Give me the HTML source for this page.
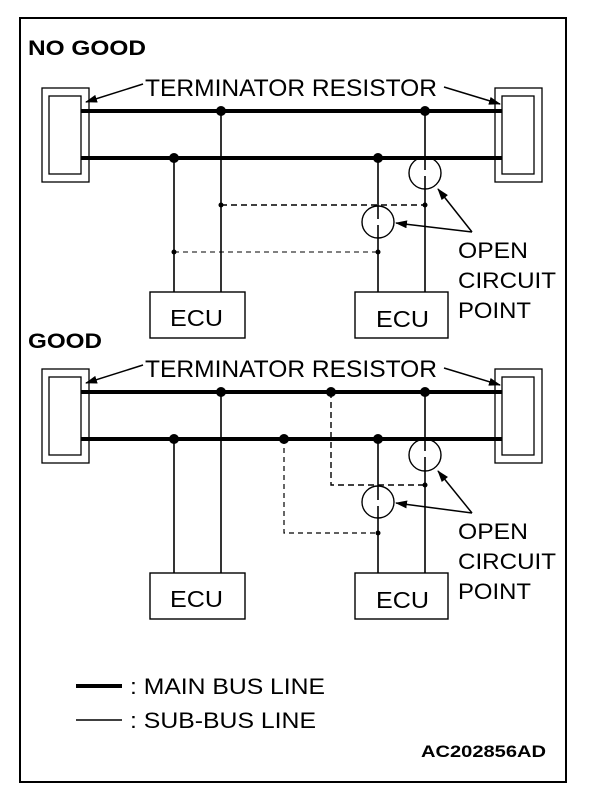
<!DOCTYPE html>
<html><head><style>body{margin:0;background:#fff}svg{display:block}text{font-family:"Liberation Sans",sans-serif;fill:#000}</style></head>
<body>
<svg width="608" height="794" viewBox="0 0 608 794" xmlns="http://www.w3.org/2000/svg">
<defs><marker id="ah" markerWidth="12" markerHeight="8" refX="11" refY="4" orient="auto" markerUnits="userSpaceOnUse"><path d="M0,0 L12,4 L0,8 z" fill="#000"/></marker></defs>
<rect x="20" y="18" width="546" height="764" fill="none" stroke="#000" stroke-width="2"/>

<text x="28" y="55" font-size="21" font-weight="bold" textLength="118" lengthAdjust="spacingAndGlyphs">NO GOOD</text>
<text x="28" y="348" font-size="21" font-weight="bold" textLength="74" lengthAdjust="spacingAndGlyphs">GOOD</text>

<g id="ng">
<text x="145" y="96" font-size="24" textLength="292" lengthAdjust="spacingAndGlyphs">TERMINATOR RESISTOR</text>
<line x1="143" y1="84" x2="86" y2="102" stroke="#000" stroke-width="1.5" marker-end="url(#ah)"/>
<line x1="444" y1="87" x2="500" y2="104" stroke="#000" stroke-width="1.5" marker-end="url(#ah)"/>
<rect x="42" y="88" width="47" height="94" fill="none" stroke="#000" stroke-width="1.3"/>
<rect x="49" y="96" width="32" height="78" fill="none" stroke="#000" stroke-width="1.3"/>
<rect x="495" y="88" width="47" height="94" fill="none" stroke="#000" stroke-width="1.3"/>
<rect x="502" y="96" width="32" height="78" fill="none" stroke="#000" stroke-width="1.3"/>
<line x1="81" y1="111" x2="502" y2="111" stroke="#000" stroke-width="4"/>
<line x1="81" y1="158" x2="502" y2="158" stroke="#000" stroke-width="4"/>
<g stroke="#000" stroke-width="1.6">
<line x1="221" y1="111" x2="221" y2="292"/>
<line x1="174" y1="158" x2="174" y2="292"/>
<line x1="425" y1="111" x2="425" y2="170"/><line x1="425" y1="176" x2="425" y2="292"/>
<line x1="378" y1="158" x2="378" y2="219"/><line x1="378" y1="225" x2="378" y2="292"/>
</g>
<circle cx="425" cy="173" r="16" fill="none" stroke="#000" stroke-width="1.4"/>
<circle cx="378" cy="222" r="16" fill="none" stroke="#000" stroke-width="1.4"/>
<line x1="221" y1="205" x2="425" y2="205" stroke="#000" stroke-width="1.4" stroke-dasharray="6,4"/>
<line x1="174" y1="252" x2="378" y2="252" stroke="#000" stroke-width="1" stroke-dasharray="5,4"/>
<g fill="#000"><circle cx="221" cy="111" r="5"/><circle cx="425" cy="111" r="5"/><circle cx="174" cy="158" r="5"/><circle cx="378" cy="158" r="5"/>
<circle cx="221" cy="205" r="2.5"/><circle cx="425" cy="205" r="2.5"/><circle cx="174" cy="252" r="2.5"/><circle cx="378" cy="252" r="2.5"/></g>
<line x1="472" y1="232" x2="438" y2="189" stroke="#000" stroke-width="1.5" marker-end="url(#ah)"/>
<line x1="472" y1="232" x2="396" y2="223" stroke="#000" stroke-width="1.5" marker-end="url(#ah)"/>
<text x="458" y="258" font-size="22" textLength="70" lengthAdjust="spacingAndGlyphs">OPEN</text>
<text x="458" y="288" font-size="22" textLength="98" lengthAdjust="spacingAndGlyphs">CIRCUIT</text>
<text x="458" y="318" font-size="22" textLength="73" lengthAdjust="spacingAndGlyphs">POINT</text>
<rect x="150" y="292" width="95" height="46" fill="#fff" stroke="#000" stroke-width="1.4"/>
<rect x="355" y="292" width="93" height="46" fill="#fff" stroke="#000" stroke-width="1.4"/>
<text x="170" y="326" font-size="23" textLength="53" lengthAdjust="spacingAndGlyphs">ECU</text>
<text x="376" y="327" font-size="23" textLength="53" lengthAdjust="spacingAndGlyphs">ECU</text>
</g>

<g transform="translate(0,281)">
<text x="145" y="96" font-size="24" textLength="292" lengthAdjust="spacingAndGlyphs">TERMINATOR RESISTOR</text>
<line x1="143" y1="84" x2="86" y2="102" stroke="#000" stroke-width="1.5" marker-end="url(#ah)"/>
<line x1="444" y1="87" x2="500" y2="104" stroke="#000" stroke-width="1.5" marker-end="url(#ah)"/>
<rect x="42" y="88" width="47" height="94" fill="none" stroke="#000" stroke-width="1.3"/>
<rect x="49" y="96" width="32" height="78" fill="none" stroke="#000" stroke-width="1.3"/>
<rect x="495" y="88" width="47" height="94" fill="none" stroke="#000" stroke-width="1.3"/>
<rect x="502" y="96" width="32" height="78" fill="none" stroke="#000" stroke-width="1.3"/>
<line x1="81" y1="111" x2="502" y2="111" stroke="#000" stroke-width="4"/>
<line x1="81" y1="158" x2="502" y2="158" stroke="#000" stroke-width="4"/>
<g stroke="#000" stroke-width="1.6">
<line x1="221" y1="111" x2="221" y2="292"/>
<line x1="174" y1="158" x2="174" y2="292"/>
<line x1="425" y1="111" x2="425" y2="170"/><line x1="425" y1="176" x2="425" y2="292"/>
<line x1="378" y1="158" x2="378" y2="219"/><line x1="378" y1="225" x2="378" y2="292"/>
</g>
<circle cx="425" cy="174" r="16" fill="none" stroke="#000" stroke-width="1.4"/>
<circle cx="378" cy="221" r="16" fill="none" stroke="#000" stroke-width="1.4"/>
<polyline points="331,111 331,204 425,204" fill="none" stroke="#000" stroke-width="1.4" stroke-dasharray="6,4"/>
<polyline points="284,158 284,252 378,252" fill="none" stroke="#000" stroke-width="1.2" stroke-dasharray="5,4"/>
<g fill="#000"><circle cx="221" cy="111" r="5"/><circle cx="331" cy="111" r="5"/><circle cx="425" cy="111" r="5"/><circle cx="174" cy="158" r="5"/><circle cx="284" cy="158" r="5"/><circle cx="378" cy="158" r="5"/>
<circle cx="425" cy="204" r="2.5"/><circle cx="378" cy="252" r="2.5"/></g>
<line x1="472" y1="232" x2="438" y2="190" stroke="#000" stroke-width="1.5" marker-end="url(#ah)"/>
<line x1="472" y1="232" x2="396" y2="222" stroke="#000" stroke-width="1.5" marker-end="url(#ah)"/>
<text x="458" y="258" font-size="22" textLength="70" lengthAdjust="spacingAndGlyphs">OPEN</text>
<text x="458" y="288" font-size="22" textLength="98" lengthAdjust="spacingAndGlyphs">CIRCUIT</text>
<text x="458" y="318" font-size="22" textLength="73" lengthAdjust="spacingAndGlyphs">POINT</text>
<rect x="150" y="292" width="95" height="46" fill="#fff" stroke="#000" stroke-width="1.4"/>
<rect x="355" y="292" width="93" height="46" fill="#fff" stroke="#000" stroke-width="1.4"/>
<text x="170" y="326" font-size="23" textLength="53" lengthAdjust="spacingAndGlyphs">ECU</text>
<text x="376" y="327" font-size="23" textLength="53" lengthAdjust="spacingAndGlyphs">ECU</text>
</g>

<line x1="76" y1="686" x2="122" y2="686" stroke="#000" stroke-width="4"/>
<text x="130" y="694" font-size="22" textLength="195" lengthAdjust="spacingAndGlyphs">: MAIN BUS LINE</text>
<line x1="76" y1="720" x2="122" y2="720" stroke="#000" stroke-width="1.5"/>
<text x="130" y="728" font-size="22" textLength="186" lengthAdjust="spacingAndGlyphs">: SUB-BUS LINE</text>
<text x="421" y="757" font-size="17" font-weight="bold" textLength="125" lengthAdjust="spacingAndGlyphs">AC202856AD</text>
</svg>
</body></html>
